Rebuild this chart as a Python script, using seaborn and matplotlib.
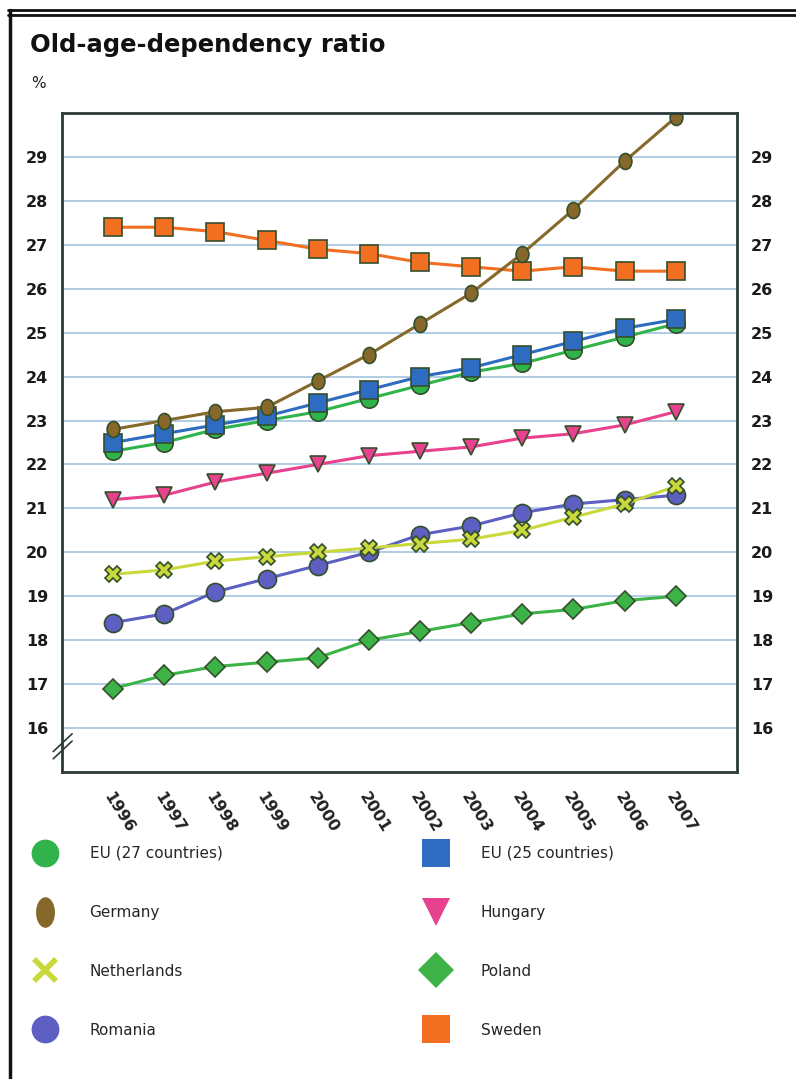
import numpy as np
import pandas as pd
import seaborn as sns
import matplotlib.pyplot as plt
from matplotlib.lines import Line2D
from matplotlib.path import Path
from matplotlib.transforms import Affine2D

years = list(range(1996, 2008))

eu27 = [22.3, 22.5, 22.8, 23.0, 23.2, 23.5, 23.8, 24.1, 24.3, 24.6, 24.9, 25.2]
eu25 = [22.5, 22.7, 22.9, 23.1, 23.4, 23.7, 24.0, 24.2, 24.5, 24.8, 25.1, 25.3]
germany = [22.8, 23.0, 23.2, 23.3, 23.9, 24.5, 25.2, 25.9, 26.8, 27.8, 28.9, 29.9]
hungary = [21.2, 21.3, 21.6, 21.8, 22.0, 22.2, 22.3, 22.4, 22.6, 22.7, 22.9, 23.2]
netherlands = [19.5, 19.6, 19.8, 19.9, 20.0, 20.1, 20.2, 20.3, 20.5, 20.8, 21.1, 21.5]
poland = [16.9, 17.2, 17.4, 17.5, 17.6, 18.0, 18.2, 18.4, 18.6, 18.7, 18.9, 19.0]
romania = [18.4, 18.6, 19.1, 19.4, 19.7, 20.0, 20.4, 20.6, 20.9, 21.1, 21.2, 21.3]
sweden = [27.4, 27.4, 27.3, 27.1, 26.9, 26.8, 26.6, 26.5, 26.4, 26.5, 26.4, 26.4]

series = {
    "EU (27 countries)": eu27,
    "EU (25 countries)": eu25,
    "Germany": germany,
    "Hungary": hungary,
    "Netherlands": netherlands,
    "Poland": poland,
    "Romania": romania,
    "Sweden": sweden,
}

df = pd.DataFrame([(c, y, v) for c, vals in series.items() for y, v in zip(years, vals)],
                  columns=["country", "year", "value"])

# vertical oval markers for Germany (narrow one for the legend)
oval_plot = Path.unit_circle().transformed(Affine2D().scale(0.8, 1.0))
oval_leg = Path.unit_circle().transformed(Affine2D().scale(0.62, 1.0))

# name: (line colour, marker, plot marker size, legend marker size)
style = {
    "Sweden":            ("#f26f21", "s", 12.5, 20),
    "Poland":            ("#3db347", "D", 10.5, 18),
    "Romania":           ("#5d5fc2", "o", 13, 20),
    "Netherlands":       ("#c9d83a", "X", 12, 18),
    "Hungary":           ("#e8418d", "v", 12, 20),
    "EU (27 countries)": ("#2fb34a", "o", 12.5, 20),
    "EU (25 countries)": ("#2d6cc0", "s", 12.5, 20),
    "Germany":           ("#86692a", oval_plot, 11.5, 22),
}

sns.set_style("white")
fig = plt.figure(figsize=(7.96, 10.79), dpi=100)
ax = fig.add_axes([62 / 796, 1 - 772 / 1079, 675 / 796, 659 / 1079])

for yv in range(16, 30):
    ax.axhline(yv, color="#a9c9e2", lw=1.3, zorder=0)

for name, (col, mk, ms, _) in style.items():
    sns.lineplot(data=df[df["country"] == name], x="year", y="value",
                 color=col, marker=mk, markersize=ms, lw=2.2,
                 markeredgecolor="#344f2c", markeredgewidth=1.2, ax=ax)

ax.set_xlim(1995, 2008.2)
ax.set_ylim(15, 30)
ax.set_xlabel("")
ax.set_ylabel("")
ax.set_yticks(range(16, 30))
ax.set_xticks(years)
ax.set_xticklabels([str(y) for y in years], rotation=-58, ha="left", va="top",
                   rotation_mode="anchor", fontsize=11.5, color="#222222")
ax.tick_params(axis="x", length=0, pad=13)
ax.tick_params(axis="y", length=0, labelsize=11.5, labelcolor="#1a1a1a",
               labelleft=True, labelright=True, pad=10)
for lab in ax.get_yticklabels():
    lab.set_fontweight("bold")
for lab in ax.get_xticklabels():
    lab.set_fontweight("semibold")
for sp in ax.spines.values():
    sp.set_color("#2b3a3a")
    sp.set_linewidth(2)

# axis break mark
for off in (0, 0.011):
    ax.plot([-0.013, 0.015], [0.02 + off, 0.047 + off], transform=ax.transAxes,
            color="#2b3a3a", lw=1.2, clip_on=False)

fig.text(30 / 796, 1 - 45 / 1079, "Old-age-dependency ratio", fontsize=17.5,
         fontweight="bold", color="#111111", va="center", ha="left")
fig.text(31 / 796, 1 - 84 / 1079, "%", fontsize=11, color="#222222",
         va="center", ha="left")

# outer frame
fig.add_artist(Line2D([8 / 796, 1], [1 - 10 / 1079] * 2, color="#111111", lw=2))
fig.add_artist(Line2D([8 / 796, 1], [1 - 14.5 / 1079] * 2, color="#111111", lw=2))
fig.add_artist(Line2D([9.5 / 796] * 2, [0, 1 - 10 / 1079], color="#111111", lw=2.5))


def handle(name):
    col, mk, _, lms = style[name]
    if mk == "X":
        return Line2D([], [], ls="none", marker="x", markersize=lms - 2,
                      markeredgewidth=4, color=col)
    if name == "Germany":
        mk = oval_leg
    return Line2D([], [], ls="none", marker=mk, markersize=lms,
                  color=col, markeredgewidth=0)


cols = [["EU (27 countries)", "Germany", "Netherlands", "Romania"],
        ["EU (25 countries)", "Hungary", "Poland", "Sweden"]]
for x0, names in zip([30, 421], cols):
    fig.legend([handle(n) for n in names], names, loc="upper left",
               bbox_to_anchor=(x0 / 796, 1 - 846 / 1079), frameon=False,
               borderpad=0, borderaxespad=0, handlelength=2,
               handletextpad=1.9, labelspacing=2.87, fontsize=11)

fig.savefig("out.png", dpi=100, facecolor="white")
